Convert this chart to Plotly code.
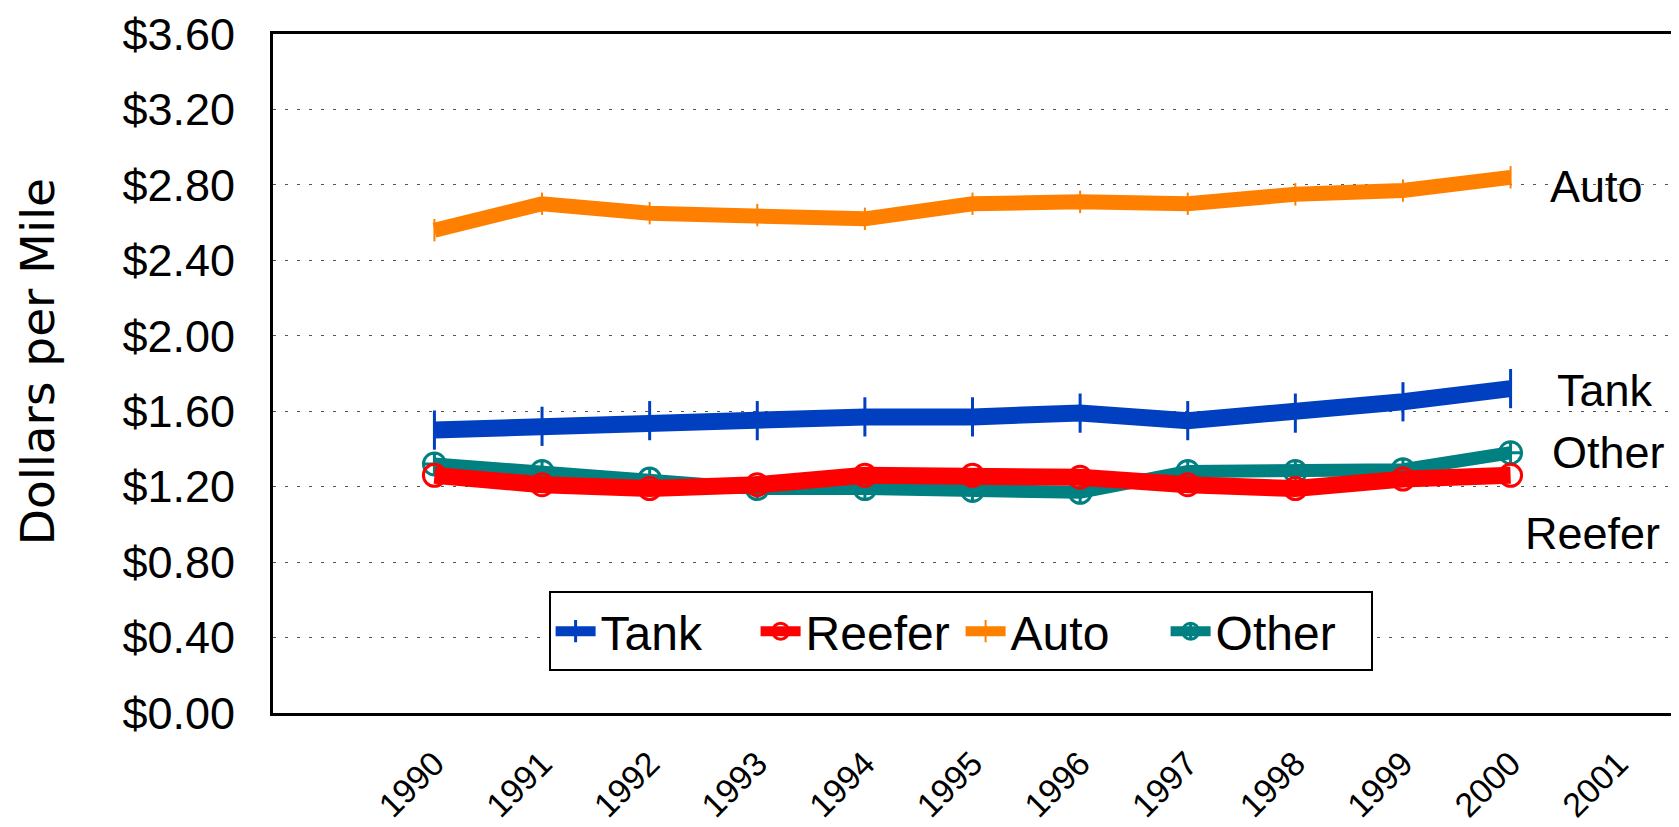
"""Dollars per mile by trailer type, 1990-2000"""

import plotly.graph_objects as go

# Data
years = [1990, 1991, 1992, 1993, 1994, 1995, 1996, 1997, 1998, 1999, 2000]
tank = [1.50, 1.52, 1.55, 1.55, 1.57, 1.57, 1.59, 1.55, 1.59, 1.65, 1.72]
reefer = [1.26, 1.21, 1.19, 1.21, 1.26, 1.26, 1.25, 1.21, 1.19, 1.24, 1.26]
auto = [2.56, 2.70, 2.65, 2.64, 2.62, 2.70, 2.71, 2.70, 2.75, 2.77, 2.84]
other = [1.32, 1.28, 1.24, 1.19, 1.19, 1.18, 1.17, 1.28, 1.28, 1.29, 1.38]

tick_years = list(range(1990, 2002))
y_ticks = [0, 0.4, 0.8, 1.2, 1.6, 2.0, 2.4, 2.8, 3.2, 3.6]

# Series labels on the right side of the plot
end_labels = ["Auto", "Tank", "Other", "Reefer"]
end_label_x = [2000.80, 2000.88, 2000.91, 2000.76]
end_label_y = [2.79, 1.71, 1.38, 0.95]

FONT = "Liberation Sans, Arial, sans-serif"

fig = go.Figure()

# drawing order: auto, tank, other, reefer (reefer on top)
fig.add_trace(go.Scatter(
    x=years, y=auto, name="Auto", mode="lines+markers", legendrank=3,
    line=dict(color="#FF8000", width=15),
    marker=dict(symbol="line-ns-open", size=16, line=dict(color="#FF8000", width=2)),
))
fig.add_trace(go.Scatter(
    x=years, y=tank, name="Tank", mode="lines+markers", legendrank=1,
    line=dict(color="#0040C0", width=17),
    marker=dict(symbol="line-ns-open", size=28, line=dict(color="#0040C0", width=3)),
))
fig.add_trace(go.Scatter(
    x=years, y=other, name="Other", mode="lines+markers", legendrank=4,
    line=dict(color="#008080", width=13),
    marker=dict(symbol="circle-cross-open", size=22, line=dict(color="#008080", width=3)),
))
fig.add_trace(go.Scatter(
    x=years, y=reefer, name="Reefer", mode="lines+markers", legendrank=2,
    line=dict(color="#FF0000", width=17),
    marker=dict(symbol="circle-open", size=22, line=dict(color="#FF0000", width=3)),
))

for txt, lx, ly in zip(end_labels, end_label_x, end_label_y):
    fig.add_annotation(x=lx, y=ly, text=txt, showarrow=False,
                       font=dict(size=45, color="black", family=FONT))

# y axis title
fig.add_annotation(
    xref="paper", yref="paper", x=-0.1687, y=0.518,
    xanchor="center", yanchor="middle",
    text="Dollars per Mile", textangle=-90, showarrow=False,
    font=dict(size=47, color="black", family="DejaVu Sans"),
)

# the page body has an 8px margin, so size the figure to fit the window
fig.update_layout(
    width=1671, height=819,
    margin=dict(l=265, r=7, t=26, b=114),
    paper_bgcolor="white", plot_bgcolor="white",
    font=dict(family=FONT, color="black"),
    showlegend=True,
    legend=dict(
        orientation="h", x=0.197, y=0.179, xanchor="left", yanchor="top",
        bordercolor="black", borderwidth=2, bgcolor="white",
        font=dict(size=48, family=FONT), itemwidth=40,
        entrywidth=150, entrywidthmode="pixels",
        traceorder="normal",
    ),
)

fig.update_xaxes(
    range=[1988.5, 2001.5],
    tickmode="array", tickvals=tick_years, ticktext=[str(y) for y in tick_years],
    tickangle=-45, tickfont=dict(size=34, family=FONT),
    ticklabelstandoff=14, automargin=False, ticklabeloverflow="allow",
    showgrid=False, zeroline=False,
    showline=True, linecolor="black", linewidth=3, mirror=True,
    ticks="",
)
fig.update_yaxes(
    range=[0, 3.6],
    tickmode="array", tickvals=y_ticks,
    ticktext=["$%.2f" % v for v in y_ticks],
    tickfont=dict(size=45, family=FONT),
    ticklabelstandoff=26, automargin=False, ticklabeloverflow="allow",
    showgrid=True, gridcolor="#555555", gridwidth=1, griddash="3px,9px",
    zeroline=False,
    showline=True, linecolor="black", linewidth=3, mirror=True,
    ticks="",
)

fig.write_html("out.html")
